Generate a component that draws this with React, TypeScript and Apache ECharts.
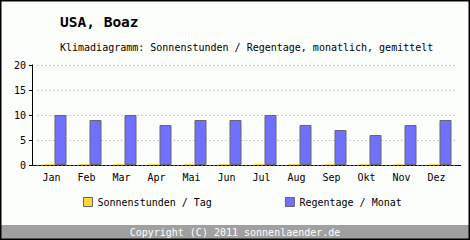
import React, { useEffect, useRef } from "react";
import * as echarts from "echarts";

const months = ["Jan", "Feb", "Mar", "Apr", "Mai", "Jun", "Jul", "Aug", "Sep", "Okt", "Nov", "Dez"];
const sonnenstunden = [0, 0, 0, 0, 0, 0, 0, 0, 0, 0, 0, 0];
const regentage = [10, 9, 10, 8, 9, 9, 10, 8, 7, 6, 8, 9];
const yTicks = { min: 0, max: 20, interval: 5 };

const MONO = "'DejaVu Sans Mono', monospace";

export default function App() {
  const ref = useRef<HTMLDivElement>(null);
  useEffect(() => {
    if (!ref.current) return;
    const chart = echarts.init(ref.current, null, { renderer: "svg" });
    chart.setOption({
      animation: false,
      backgroundColor: "#fcfefc",
      title: [
        {
          text: "USA, Boaz",
          left: 55,
          top: 9,
          textStyle: { fontFamily: MONO, fontSize: 14.5, fontWeight: "bold", color: "#000" },
        },
        {
          text: "Klimadiagramm: Sonnenstunden / Regentage, monatlich, gemittelt",
          left: 55,
          top: 37,
          textStyle: { fontFamily: MONO, fontSize: 10, fontWeight: "normal", color: "#000" },
        },
      ],
      legend: {
        left: 78,
        top: 192,
        itemWidth: 9,
        itemHeight: 9,
        itemGap: 73,
        icon: "rect",
        textStyle: { fontFamily: MONO, fontSize: 10, color: "#000", padding: [0, 0, 0, 0] },
        data: [
          { name: "Sonnenstunden / Tag", itemStyle: { color: "#ffd633", borderColor: "#666", borderWidth: 1 } },
          { name: "Regentage / Monat", itemStyle: { color: "#7070ff", borderColor: "#666", borderWidth: 1 } },
        ],
      },
      grid: { left: 37.5, right: 12.5, top: 65, bottom: 75 },
      xAxis: {
        type: "category",
        data: months,
        axisLine: { show: false },
        axisTick: { show: false },
        axisLabel: {
          fontFamily: MONO,
          fontSize: 10,
          color: "#000",
          margin: 7,
          padding: [0, 7, 0, 0],
        },
      },
      yAxis: {
        type: "value",
        min: yTicks.min,
        max: yTicks.max,
        interval: yTicks.interval,
        offset: 5.5,
        axisLine: { show: true, lineStyle: { color: "#000", width: 1 } },
        axisTick: { show: true, length: 3, lineStyle: { color: "#000" } },
        axisLabel: { fontFamily: MONO, fontSize: 10, color: "#000", margin: 6 },
        splitLine: { show: true, lineStyle: { color: "#999", type: [1, 3] } },
      },
      graphic: [
        {
          type: "line",
          z: 0,
          shape: { x1: 32, y1: 165.5, x2: 461, y2: 165.5 },
          style: { stroke: "#000", lineWidth: 1 },
        },
        {
          type: "rect",
          z: 0,
          shape: { x: 0, y: 225, width: 470, height: 15 },
          style: { fill: "#a0a0a0" },
        },
        {
          type: "text",
          z: 1,
          x: 235,
          y: 232.5,
          style: {
            text: "Copyright (C) 2011 sonnenlaender.de",
            fontFamily: MONO,
            fontSize: 10,
            fill: "#fff",
            align: "center",
            verticalAlign: "middle",
          },
        },
        {
          type: "rect",
          z: 10,
          shape: { x: 0.5, y: 0.5, width: 469, height: 239 },
          style: { fill: "none", stroke: "#000", lineWidth: 2 },
        },
      ],
      series: [
        {
          name: "Sonnenstunden / Tag",
          type: "bar",
          data: sonnenstunden,
          barWidth: 11,
          barGap: "0%",
          barMinHeight: 1,
          z: 5,
          itemStyle: { color: "#ffd633" },
        },
        {
          name: "Regentage / Monat",
          type: "bar",
          data: regentage,
          barWidth: 12,
          barGap: "0%",
          z: 5,
          itemStyle: { color: "#7070ff", borderColor: "#666", borderWidth: 1 },
        },
      ],
    });
    return () => chart.dispose();
  }, []);
  return (
    <div style={{ position: "absolute", left: 0, top: 0 }}>
      <div ref={ref} style={{ width: 470, height: 240 }} />
    </div>
  );
}
